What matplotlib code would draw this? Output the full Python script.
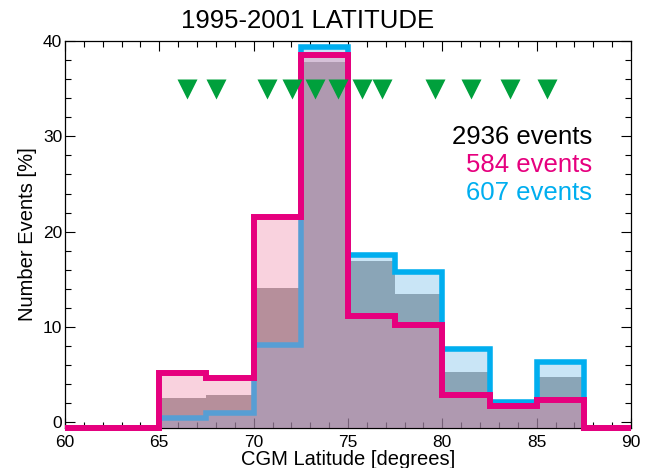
import numpy as np
import matplotlib
matplotlib.use("Agg")
import matplotlib.pyplot as plt
from matplotlib.ticker import MultipleLocator

plt.rcParams['font.family'] = ['Liberation Sans', 'DejaVu Sans']

# bin edges, 2.5 degree bins from 60 to 90
edges = np.arange(60, 92.5, 2.5)

# percent of events per bin
all_pct = [0, 0, 2.55, 2.85, 14.1, 37.8, 16.9, 13.5, 5.3, 1.65, 4.8, 0]     # 2936 events
mag_pct = [0, 0, 5.2, 4.6, 21.5, 38.5, 11.2, 10.2, 2.85, 1.75, 2.35, 0]     # 584 events
cyan_pct = [0, 0, 0.4, 1.0, 8.1, 39.4, 17.6, 15.75, 7.7, 2.15, 6.3, 0]      # 607 events

# green markers
tri_x = [66.45, 67.99, 70.69, 72.01, 73.25, 74.45, 75.72, 76.78, 79.61, 81.50, 83.58, 85.53]
tri_y = [35] * len(tri_x)

labels = ['2936 events', '584 events', '607 events']
label_colors = ['black', '#e6007e', '#00aeef']

y0 = -0.6  # bottom of the y range; empty bins sit on it


def lift(v):
    v = np.asarray(v, dtype=float)
    return np.where(v > 0, v, y0)


fig = plt.figure(figsize=(6.51, 4.68), dpi=100)
ax = fig.add_axes([0.0998, 0.0855, 0.8695, 0.8269])

ax.stairs(lift(all_pct), edges, baseline=y0, fill=True, color='#969696', zorder=1)
ax.stairs(lift(cyan_pct), edges, baseline=y0, fill=True,
          color=(120/255, 190/255, 233/255), alpha=0.4, zorder=2)
p = ax.stairs(lift(cyan_pct), edges, baseline=y0, color='#00aeef', lw=4, zorder=3, clip_on=False)
p.set_joinstyle('miter')
ax.stairs(lift(mag_pct), edges, baseline=y0, fill=True,
          color=(239/255, 133/255, 166/255), alpha=0.37, zorder=4)
p = ax.stairs(lift(mag_pct), edges, baseline=y0, color='#e6007e', lw=4.3, zorder=5, clip_on=False)
p.set_joinstyle('miter')

ax.plot(tri_x, tri_y, 'v', color='#00a03c', ms=14.5, mec='none', zorder=6)

ax.set_xlim(60, 90)
ax.set_ylim(y0, 40)
ax.xaxis.set_major_locator(MultipleLocator(5))
ax.xaxis.set_minor_locator(MultipleLocator(1))
ax.yaxis.set_major_locator(MultipleLocator(10))
ax.yaxis.set_minor_locator(MultipleLocator(2))
ax.tick_params(which='both', direction='in', top=True, right=True, labelsize=12.5)
ax.tick_params(which='major', length=7, width=0.8)
ax.tick_params(which='minor', length=4, width=0.8)
ax.tick_params(axis='x', pad=5)
ax.tick_params(axis='y', pad=2)
for s in ax.spines.values():
    s.set_linewidth(0.9)

ax.set_xlabel('CGM Latitude [degrees]', fontsize=14.5, labelpad=0)
ax.set_ylabel('Number Events [%]', fontsize=14.5, labelpad=4)

fig.text(0.472, 0.940, '1995-2001 LATITUDE', fontsize=18.5, ha='center', va='baseline')

for lab, col, yy in zip(labels, label_colors, [0.734, 0.661, 0.589]):
    ax.text(0.931, yy, lab, color=col, fontsize=18.5, ha='right', va='baseline',
            transform=ax.transAxes)

fig.savefig('out.png', dpi=100)
